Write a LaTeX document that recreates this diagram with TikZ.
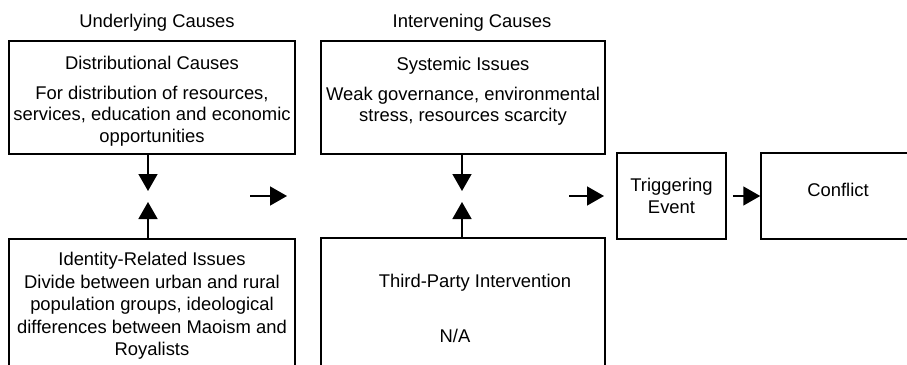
\documentclass[tikz,border=0pt]{standalone}
\usepackage{fontspec}
\setmainfont{Liberation Sans}
\usetikzlibrary{arrows.meta}
\begin{document}
\begin{tikzpicture}[x=1pt,y=-1pt,font=\fontsize{18.4}{21.5}\selectfont,
		box/.style={draw,line width=1.5pt,rectangle,inner sep=0pt,align=center},
		arr/.style={line width=1.5pt,-{Triangle[length=17pt,width=19pt]}}]
	\useasboundingbox (0,0) rectangle (907,364);
	\node (hdunder) at (157,23) {Underlying Causes};
	\node (hdinter) at (472,23) {Intervening Causes};
	\node[box,minimum width=286pt,minimum height=113pt] (distr) at (152,97.5) {};
	\node[align=center] (distrtxt) at (152,101) {Distributional Causes\\[8.5pt]For distribution of resources,\\services, education and economic\\opportunities};
	\node[box,minimum width=286pt,minimum height=134pt,font=\fontsize{18.4}{22.5}\selectfont] (ident) at (152,306) {Identity-Related Issues\\Divide between urban and rural\\population groups, ideological\\differences between Maoism and\\Royalists};
	\node[box,minimum width=284pt,minimum height=113pt] (syst) at (463,97.5) {};
	\node[align=center] (systxt) at (463,91) {Systemic Issues\\[8.5pt]Weak governance, environmental\\stress, resources scarcity};
	\node[box,minimum width=284pt,minimum height=134pt] (third) at (463,305) {};
	\node (thirdtxt) at (475,283) {Third-Party Intervention};
	\node (natxt) at (455,336) {N/A};
	\node[box,minimum width=109pt,minimum height=86pt] (trig) at (671.5,196) {Triggering\\Event};
	\node[box,minimum width=151pt,minimum height=86pt] (confl) at (836.5,196) {};
	\node (confltxt) at (838,190) {Conflict};
	%\draw (distr.south) -- (ident.north);
	\coordinate (dtip) at (148,191);
	\coordinate (itip) at (148,202);
	\coordinate (stip) at (462,191);
	\coordinate (ttip) at (462,202);
	\draw[arr] (distr.south -| dtip) -- (dtip);
	\draw[arr] (ident.north -| itip) -- (itip);
	\draw[arr] (syst.south -| stip) -- (stip);
	\draw[arr] (third.north -| ttip) -- (ttip);
	\coordinate (hastart) at (250,196);
	\coordinate (haend) at (287,196);
	\coordinate (hbstart) at (569,196);
	\coordinate (hbend) at (604,196);
	\draw[arr] (hastart) -- (haend);
	\draw[arr] (hbstart) -- (hbend);
	\draw[arr,shorten <=6pt] (trig) -- (confl);
\end{tikzpicture}
\end{document}
